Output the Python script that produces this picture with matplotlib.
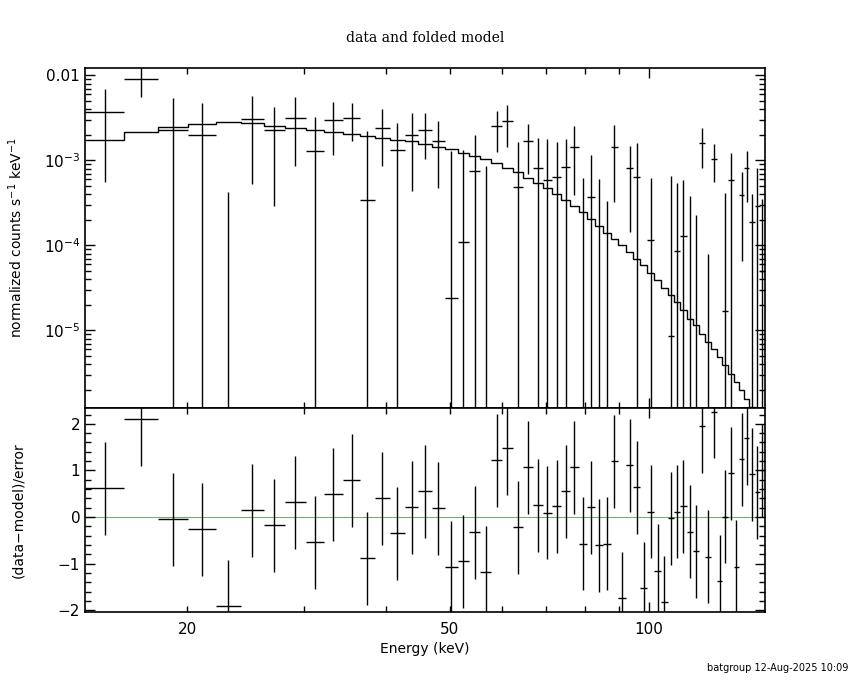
import matplotlib
matplotlib.use("Agg")
import matplotlib.pyplot as plt
from matplotlib.ticker import FixedLocator, FixedFormatter
import numpy as np

# energy bin edges (keV)
edges = [14.0, 16.04, 18.04, 20.03, 22.07, 24.08, 26.12, 28.09, 30.23, 32.2,
         34.44, 36.54, 38.45, 40.5, 42.69, 44.79, 46.98, 49.11, 51.38, 53.45,
         55.54, 57.72, 59.96, 62.24, 64.41, 66.7, 69.06, 71.39, 73.67, 76.02,
         78.32, 80.67, 82.95, 85.23, 87.56, 89.94, 92.41, 94.7, 97.03, 99.43,
         101.9, 104.4, 106.8, 109.3, 111.6, 114.1, 116.6, 119.0, 121.6, 124.2,
         126.8, 129.3, 131.8, 134.4, 137.0, 139.5, 142.1, 144.8, 147.4, 150.0]

# normalized counts s^-1 keV^-1
rate = [3.70e-3, 8.97e-3, 2.25e-3, 2.00e-3, -2.17e-3, 3.09e-3, 2.25e-3, 3.18e-3, 1.30e-3, 3.01e-3,
        3.18e-3, 3.44e-4, 2.42e-3, 1.31e-3, 2.00e-3, 2.30e-3, 1.70e-3, 2.4e-5, 1.08e-4, 7.55e-4,
        -1.5e-4, 2.56e-3, 2.93e-3, 4.81e-4, 1.70e-3, 8.2e-4, 5.93e-4, 6.43e-4, 8.4e-4, 1.45e-3,
        -2.5e-4, 3.67e-4, -5.3e-4, -1.1e-4, 1.45e-3, -9.5e-4, 8.05e-4, 6.43e-4, -6.9e-4, 1.17e-4,
        -5.3e-4, -8.7e-4, 8.6e-6, 8.67e-5, 1.30e-4, -1.6e-4, -6.1e-4, 1.62e-3, -3.9e-4, 1.05e-3,
        -5.5e-4, 1.7e-5, 5.93e-4, -4.3e-4, 3.95e-4, 8.05e-4, 1.90e-4, 2.88e-4, 5.0e-5]
rate_err = [3.14e-3, 3.47e-3, 3.1e-3, 2.69e-3, 2.59e-3, 2.57e-3, 1.96e-3, 2.32e-3, 1.9e-3, 1.84e-3,
            1.51e-3, 1.85e-3, 1.56e-3, 1.41e-3, 1.57e-3, 1.27e-3, 1.23e-3, 1.25e-3, 1.22e-3, 1.21e-3,
            1.0e-3, 1.29e-3, 1.5e-3, 1.15e-3, 1.0e-3, 1.03e-3, 1.19e-3, 0.99e-3, 0.94e-3, 1.06e-3,
            8.7e-4, 7.8e-4, 1.14e-3, 4.4e-4, 1.13e-3, 6.0e-4, 6.6e-4, 9.4e-4, 5.0e-4, 4.97e-4,
            5.0e-4, 5.0e-4, 6.5e-4, 4.6e-4, 4.6e-4, 5.4e-4, 8.4e-4, 8.0e-4, 4.7e-4, 4.9e-4,
            4.0e-4, 4.0e-4, 6.2e-4, 4.0e-4, 3.3e-4, 4.8e-4, 2.1e-4, 5.2e-4, 3.0e-4]

# folded model
model = [1.73e-3, 2.13e-3, 2.44e-3, 2.67e-3, 2.80e-3, 2.72e-3, 2.54e-3, 2.42e-3, 2.30e-3, 2.13e-3,
         2.02e-3, 1.95e-3, 1.85e-3, 1.75e-3, 1.69e-3, 1.57e-3, 1.45e-3, 1.37e-3, 1.23e-3, 1.13e-3,
         1.03e-3, 9.3e-4, 8.2e-4, 7.2e-4, 6.25e-4, 5.47e-4, 4.77e-4, 4.02e-4, 3.41e-4, 2.90e-4,
         2.44e-4, 2.04e-4, 1.69e-4, 1.41e-4, 1.18e-4, 1.0e-4, 8.4e-5, 7.0e-5, 5.8e-5, 4.73e-5,
         3.88e-5, 3.18e-5, 2.58e-5, 2.16e-5, 1.72e-5, 1.37e-5, 1.15e-5, 9.1e-6, 7.3e-6, 6.1e-6,
         4.85e-6, 3.9e-6, 3.1e-6, 2.47e-6, 1.97e-6, 1.57e-6, 1.25e-6, 1.0e-6, 0.8e-6]

# (data-model)/error
resid = [0.62, 2.10, -0.05, -0.26, -1.92, 0.14, -0.18, 0.32, -0.54, 0.49,
         0.79, -0.89, 0.40, -0.35, 0.21, 0.55, 0.19, -1.08, -0.95, -0.33,
         -1.19, 1.22, 1.48, -0.22, 1.07, 0.25, 0.09, 0.23, 0.55, 1.07,
         -0.57, 0.21, -0.61, -0.57, 1.20, -1.75, 1.11, 0.64, -1.53, 0.11,
         -1.15, -1.83, -0.03, 0.11, 0.23, -0.32, -0.74, 1.95, -0.85, 2.26,
         -1.38, 0.01, 0.94, -1.07, 1.24, 1.69, 0.92, 0.53, 1.0]

edges = np.array(edges)
lo, hi = edges[:-1], edges[1:]
cen = np.sqrt(lo * hi)
xerr = [cen - lo, hi - cen]

fig = plt.figure(figsize=(8.5, 6.8), dpi=100)
ax1 = fig.add_axes([0.1, 0.4, 0.8, 0.5])
ax2 = fig.add_axes([0.1, 0.1, 0.8, 0.3], sharex=ax1)

lw = 1.0
ax1.errorbar(cen, rate, xerr=xerr, yerr=rate_err, fmt='none', ecolor='k', elinewidth=lw, capsize=0)
ax1.stairs(model, edges, baseline=None, color='k', lw=lw)
ax1.set_xscale('log')
ax1.set_yscale('log')
ax1.set_xlim(14, 150)
ax1.set_ylim(1.22e-6, 0.0122)
ax1.set_yticks([1e-5, 1e-4, 1e-3, 1e-2])
ax1.set_yticklabels([r'10$^{-5}$', r'10$^{-4}$', r'10$^{-3}$', '0.01'])
ax1.set_ylabel(r'normalized counts s$^{-1}$ keV$^{-1}$', fontsize=10)
ax1.yaxis.set_label_coords(-0.088, 0.5)
ax1.tick_params(labelbottom=False)

ax2.axhline(0, color='#00ff00', lw=0.8, zorder=0)
ax2.errorbar(cen, resid, xerr=xerr, yerr=1.0, fmt='none', ecolor='k', elinewidth=lw, capsize=0)
ax2.set_ylim(-2.04, 2.34)
ax2.set_yticks([-2, -1, 0, 1, 2])
ax2.set_yticklabels(['\u22122', '\u22121', '0', '1', '2'])
ax2.yaxis.set_minor_locator(FixedLocator(np.arange(-2.0, 2.41, 0.2)))
ax2.set_ylabel('(data\u2212model)/error', fontsize=10)
ax2.yaxis.set_label_coords(-0.088, 0.5)
ax2.set_xlabel('Energy (keV)', fontsize=10)

ax2.xaxis.set_major_locator(FixedLocator([100]))
ax2.xaxis.set_minor_locator(FixedLocator([20, 30, 40, 50, 60, 70, 80, 90]))
ax2.xaxis.set_major_formatter(FixedFormatter(['100']))
ax2.xaxis.set_minor_formatter(FixedFormatter(['20', '', '', '50', '', '', '', '']))

for ax in (ax1, ax2):
    ax.tick_params(which='both', direction='in', top=True, right=True, labelsize=11, width=1.0)
    ax.tick_params(which='major', length=7)
    ax.tick_params(which='minor', length=4)
    for s in ax.spines.values():
        s.set_linewidth(1.2)
ax2.tick_params(axis='x', which='both', pad=7)

fig.text(0.5, 0.944, 'data and folded model', ha='center', va='center',
         fontsize=10, family='DejaVu Serif')
fig.text(0.998, 0.017, 'batgroup 12-Aug-2025 10:09', ha='right', va='center', fontsize=7)

fig.savefig('out.png', dpi=100)
